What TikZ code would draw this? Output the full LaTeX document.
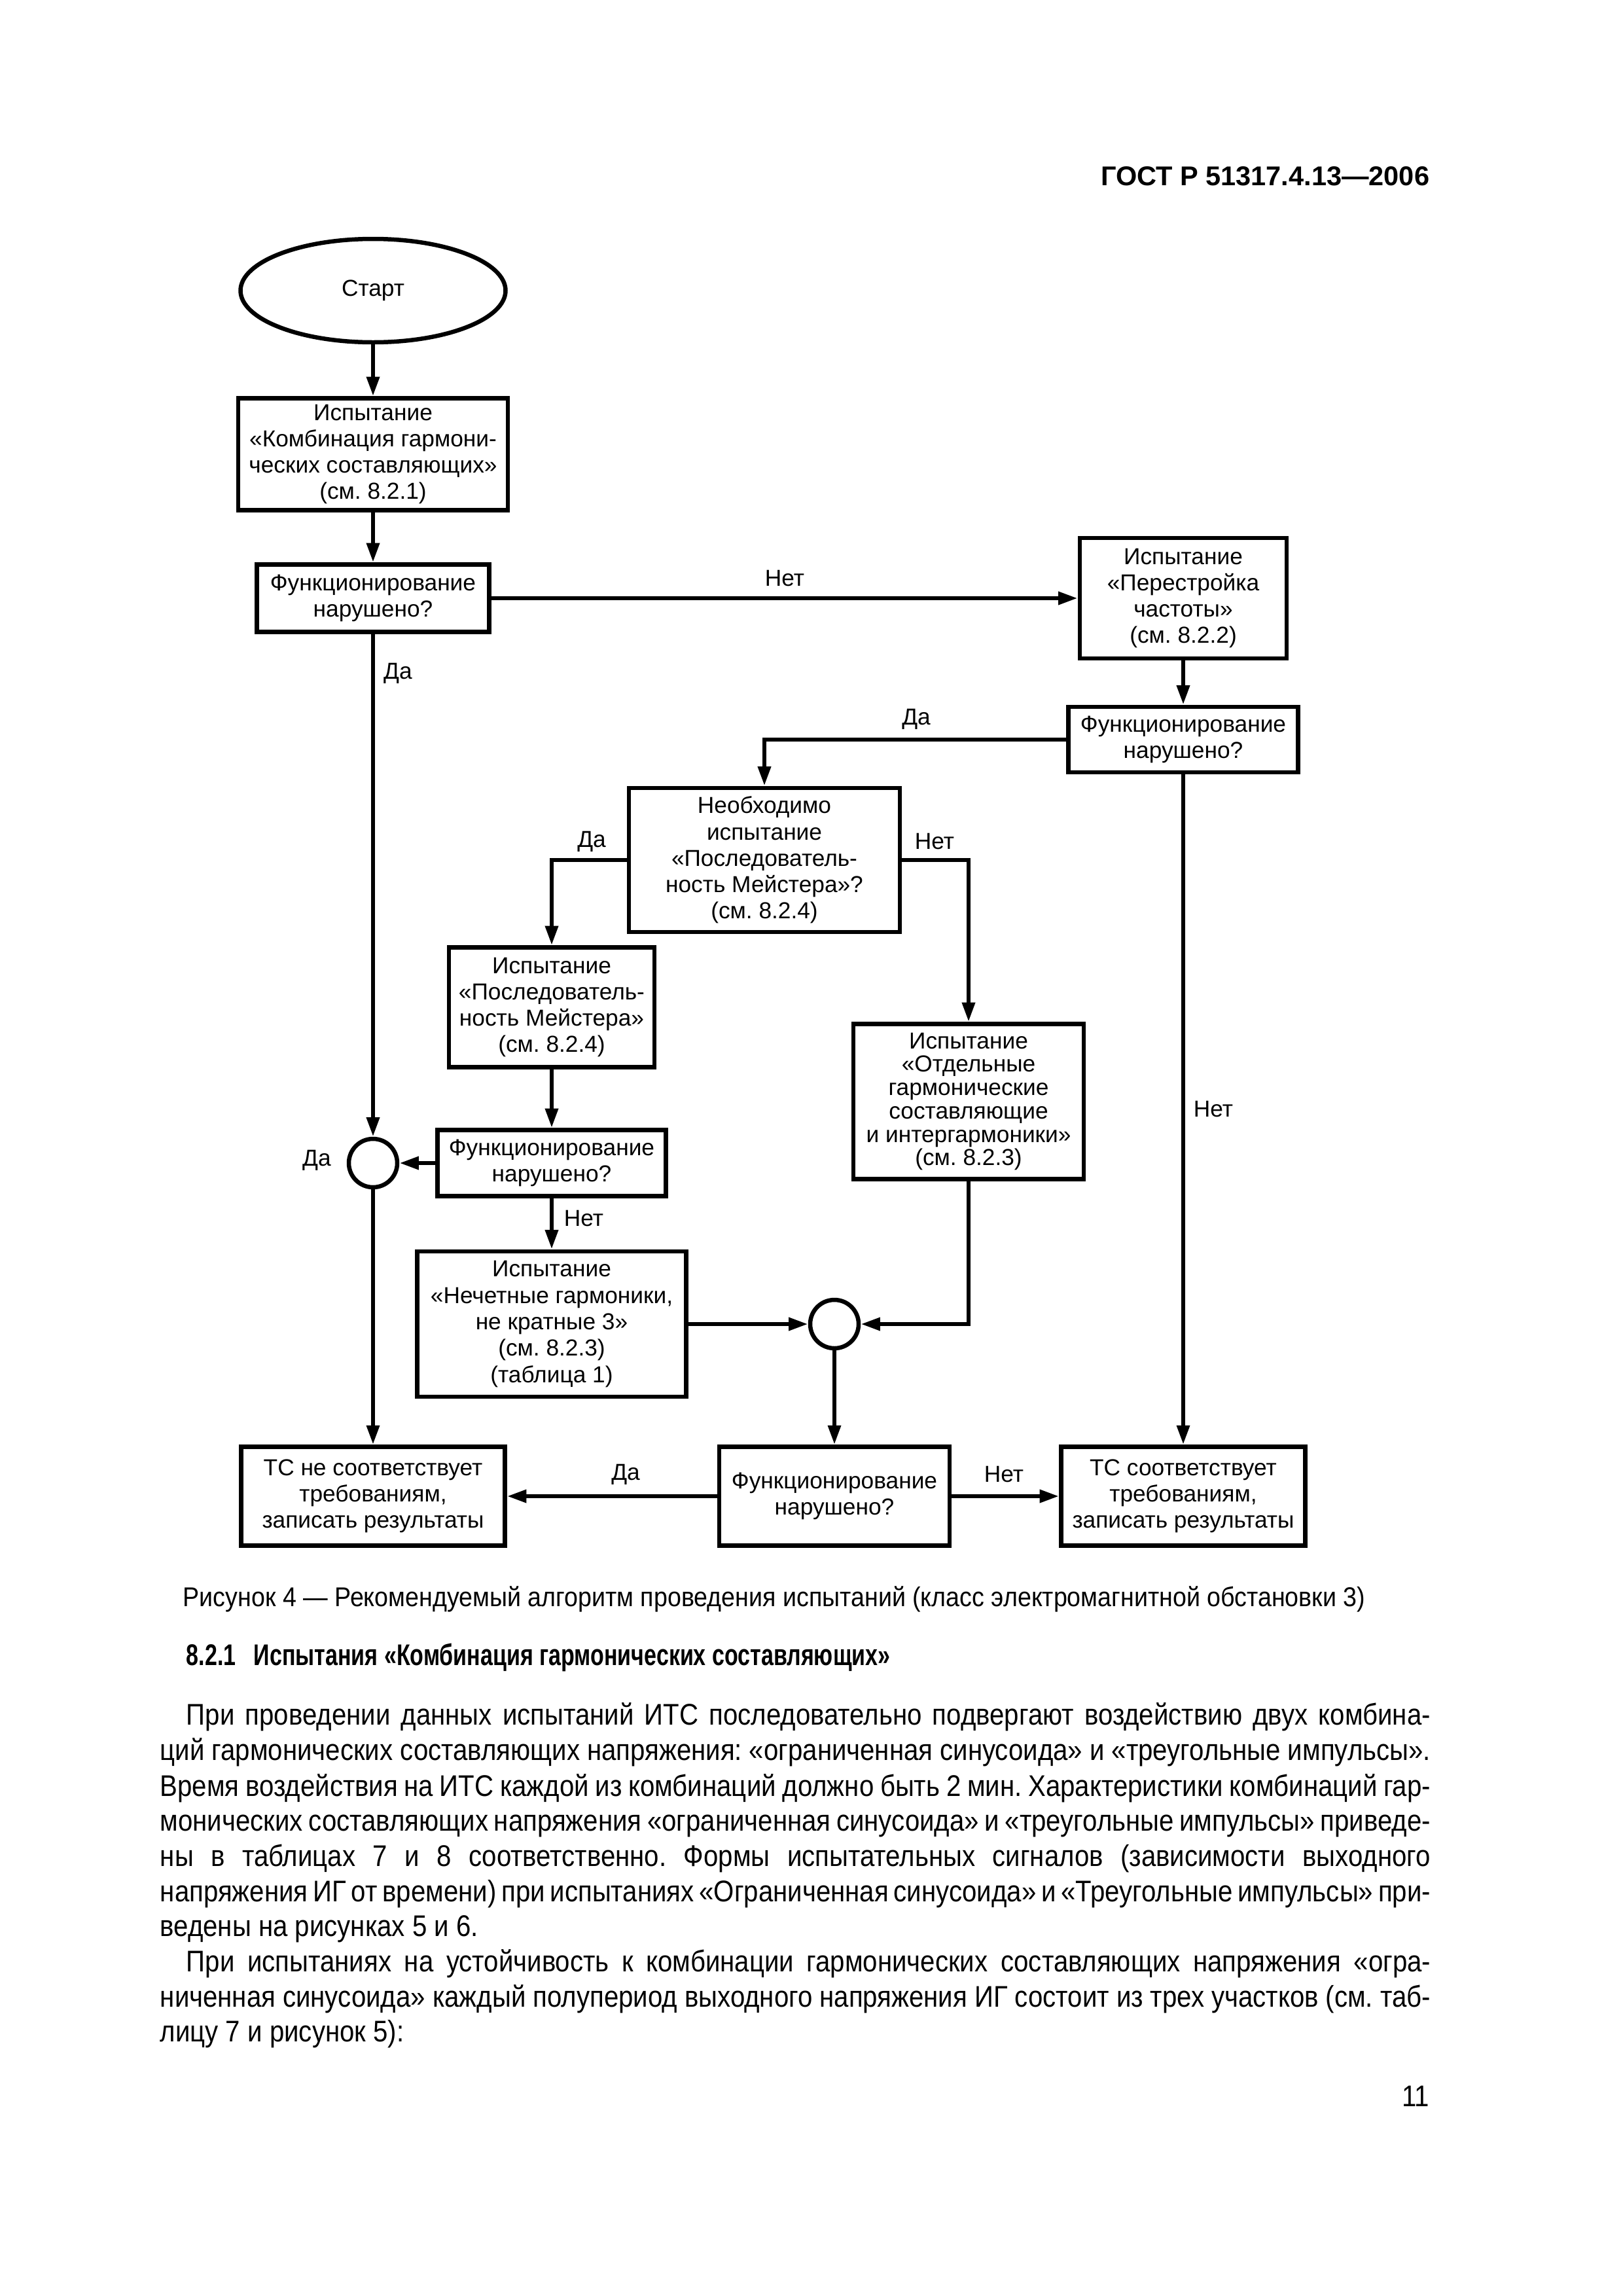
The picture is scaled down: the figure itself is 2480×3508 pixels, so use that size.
\documentclass[tikz,border=0pt]{standalone}
\usepackage{fontspec}
\setmainfont{Liberation Sans}
\newfontfamily\bodyfont[FakeStretch=0.88]{Liberation Sans}
\newfontfamily\capfont[FakeStretch=0.906]{Liberation Sans}
\newfontfamily\headfont[FakeStretch=0.745]{Liberation Sans}
\usetikzlibrary{arrows.meta,shapes.geometric}
\newdimen\PX
\PX=0.0846774mm
\frenchspacing
\begin{document}
\begin{tikzpicture}[x=0.0846774mm, y=-0.0846774mm,
  lw/.style={line width=0.55mm},
  box/.style={draw, lw, align=center, inner sep=0pt, font=\fontsize{8.5}{9.7}\selectfont},
  tightbox/.style={box, font=\fontsize{8.5}{8.6}\selectfont},
  term/.style={ellipse, draw, lw, inner sep=0pt, font=\fontsize{8.5}{9.7}\selectfont},
  circ/.style={circle, draw, lw, inner sep=0pt, minimum size=74*\PX},
  sz/.style 2 args={minimum width=#1*\PX, minimum height=#2*\PX},
  arr/.style={lw, -{Triangle[length=2.5mm,width=1.6mm]}},
  lbl/.style={inner sep=0pt, font=\fontsize{8.5}{9.7}\selectfont},
  txt/.style={inner sep=0pt, anchor=mid west, font=\bodyfont\fontsize{11}{12.9}\selectfont\frenchspacing}
]
\useasboundingbox (0,0) rectangle (2480,3508);
\fill[white] (0,0) rectangle (2480,3508);

% header
\node[inner sep=0pt, anchor=mid east, font=\bfseries\fontsize{10}{12}\selectfont] (hdr) at (2185,273) {ГОСТ Р 51317.4.13—2006};

% flowchart nodes
\node[term, sz={405}{158}] (start) at (570,444) {Старт};
\node[box, sz={412}{171}] (b1) at (570,694) {Испытание\\«Комбинация гармони-\\ческих составляющих»\\(см. 8.2.1)};
\node[box, sz={355}{103}] (d1) at (570,914) {Функционирование\\нарушено?};
\node[box, sz={316}{184}] (b2) at (1808,914) {Испытание\\«Перестройка\\частоты»\\(см. 8.2.2)};
\node[box, sz={351}{100}] (d2) at (1808,1130) {Функционирование\\нарушено?};
\node[box, sz={414}{220}] (q) at (1168,1314) {Необходимо\\испытание\\«Последователь-\\ность Мейстера»?\\(см. 8.2.4)};
\node[box, sz={314}{183}] (b3) at (843,1539) {Испытание\\«Последователь-\\ность Мейстера»\\(см. 8.2.4)};
\node[tightbox, sz={352}{237}] (b4) at (1480,1683) {Испытание\\«Отдельные\\гармонические\\составляющие\\и интергармоники»\\(см. 8.2.3)};
\node[box, sz={349}{101}] (d3) at (843,1777) {Функционирование\\нарушено?};
\node[circ] (c1) at (570,1777) {};
\node[box, sz={411}{222}] (b5) at (843,2023) {Испытание\\«Нечетные гармоники,\\не кратные 3»\\(см. 8.2.3)\\(таблица 1)};
\node[circ] (c2) at (1275,2023) {};
\node[box, sz={352}{151}] (d4) at (1275,2286) {Функционирование\\нарушено?};
\node[box, sz={403}{151}] (r1) at (570,2286) {ТС не соответствует\\требованиям,\\записать результаты};
\node[box, sz={373}{151}] (r2) at (1808,2286) {ТС соответствует\\требованиям,\\записать результаты};

% connectors
\draw[arr] (start) -- (b1);
\draw[arr] (b1) -- (d1);
\draw[arr] (d1) -- (b2);
\draw[arr] (b2) -- (d2);
\draw[arr] (d2.west) -| (q.north);
\draw[arr] (q.west) -| (b3.north);
\draw[arr] (q.east) -| (b4.north);
\draw[arr] (d1) -- (c1);
\draw[arr] (b3) -- (d3);
\draw[arr] (d3) -- (c1);
\draw[arr] (d3) -- (b5);
\draw[arr] (b5) -- (c2);
\draw[arr] (b4.south) |- (c2.east);
\draw[arr] (c2) -- (d4);
\draw[arr] (c1) -- (r1);
\draw[arr] (d4) -- (r1);
\draw[arr] (d4) -- (r2);
\draw[arr] (d2) -- (r2);

% labels
\node[lbl] (l1) at (1199,884) {Нет};
\node[lbl] (l2) at (608,1029) {Да};
\node[lbl] (l3) at (1400,1099) {Да};
\node[lbl] (l4) at (904,1286) {Да};
\node[lbl] (l5) at (1428,1286) {Нет};
\node[lbl] (l6) at (484,1773) {Да};
\node[lbl] (l7) at (892,1862) {Нет};
\node[lbl] (l8) at (1854,1695) {Нет};
\node[lbl] (l9) at (956,2253) {Да};
\node[lbl] (l10) at (1534,2253) {Нет};

% caption and text
\node[inner sep=0pt, anchor=mid west, font=\capfont\fontsize{10}{12}\selectfont] (cap) at (279,2444) {Рисунок 4 — Рекомендуемый алгоритм проведения испытаний (класс электромагнитной обстановки 3)};
\node[txt, font=\headfont\bfseries\fontsize{11}{12.9}\selectfont] (head) at (284,2534) {8.2.1\hspace{0.6em}Испытания «Комбинация гармонических составляющих»};
\node[txt] (t1) at (284,2625) {\makebox[1901\PX][s]{При проведении данных испытаний ИТС последовательно подвергают воздействию двух комбина-}};
\node[txt] (t2) at (244,2679) {\makebox[1941\PX][s]{ций гармонических составляющих напряжения: «ограниченная синусоида» и «треугольные импульсы».}};
\node[txt] (t3) at (244,2733) {\makebox[1941\PX][s]{Время воздействия на ИТС каждой из комбинаций должно быть 2 мин. Характеристики комбинаций гар-}};
\node[txt] (t4) at (244,2786) {\makebox[1941\PX][s]{монических составляющих напряжения «ограниченная синусоида» и «треугольные импульсы» приведе-}};
\node[txt] (t5) at (244,2840) {\makebox[1941\PX][s]{ны в таблицах 7 и 8 соответственно. Формы испытательных сигналов (зависимости выходного}};
\node[txt] (t6) at (244,2894) {\makebox[1941\PX][s]{напряжения ИГ от времени) при испытаниях «Ограниченная синусоида» и «Треугольные импульсы» при-}};
\node[txt] (t7) at (244,2947) {ведены на рисунках 5 и 6.};
\node[txt] (t8) at (284,3001) {\makebox[1901\PX][s]{При испытаниях на устойчивость к комбинации гармонических составляющих напряжения «огра-}};
\node[txt] (t9) at (244,3055) {\makebox[1941\PX][s]{ниченная синусоида» каждый полупериод выходного напряжения ИГ состоит из трех участков (см. таб-}};
\node[txt] (t10) at (244,3108) {лицу 7 и рисунок 5):};
\node[txt, anchor=mid east] (pg) at (2185,3207) {11};
\end{tikzpicture}
\end{document}
